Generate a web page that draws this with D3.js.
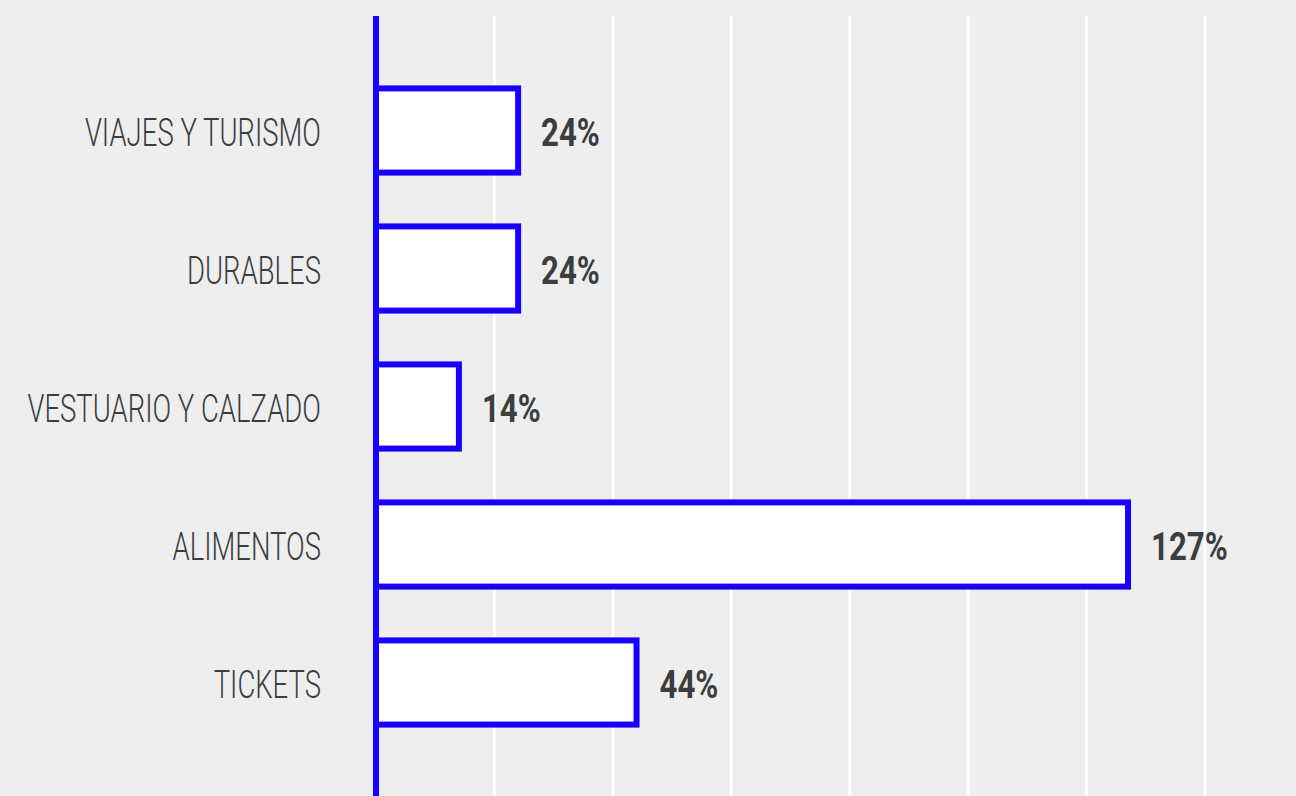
<!DOCTYPE html>
<meta charset="utf-8">
<style>
body {
  margin: 0;
  background: #eeeeee;
  font-family: Roboto, "Noto Sans", sans-serif;
}
svg { display: block; }
.grid line { stroke: #fff; stroke-width: 3; }
.axis-line { stroke: #1800ff; stroke-width: 6; }
.bar { fill: #fff; stroke: #1800ff; stroke-width: 6; }
.cat { fill: #3b3e41; font-weight: 300; font-size: 39px; }
.val { fill: #3b3e41; font-weight: 700; font-size: 38px; }
</style>
<div id="chart"></div>
<script src="https://d3js.org/d3.v7.min.js"></script>
<script>
var categories = ["VIAJES Y TURISMO", "DURABLES", "VESTUARIO Y CALZADO", "ALIMENTOS", "TICKETS"];
var values = [24, 24, 14, 127, 44];
var gridTicks = [0, 20, 40, 60, 80, 100, 120, 140];

var width = 1296, height = 796;
var catSqueeze = 0.705, valSqueeze = 0.82;

var svg = d3.select("#chart").append("svg")
  .attr("width", width)
  .attr("height", height);

var x = d3.scaleLinear().domain([0, 140]).range([376, 1205]);
var y = d3.scaleBand().domain(categories).range([61.5, 751.5])
  .paddingInner(0.39).paddingOuter(0.195);

// vertical grid
svg.append("g").attr("class", "grid")
  .selectAll("line").data(gridTicks).enter().append("line")
  .attr("x1", d => x(d)).attr("x2", d => x(d))
  .attr("y1", 16).attr("y2", height);

// bars
svg.selectAll(".bar").data(values).enter().append("rect")
  .attr("class", "bar")
  .attr("x", x(0))
  .attr("y", (d, i) => y(categories[i]))
  .attr("width", d => x(d) - x(0))
  .attr("height", y.bandwidth());

// axis line
svg.append("line").attr("class", "axis-line")
  .attr("x1", x(0)).attr("x2", x(0))
  .attr("y1", 16).attr("y2", height);

// category labels
svg.selectAll(".cat").data(categories).enter().append("text")
  .attr("class", "cat")
  .attr("text-anchor", "end")
  .attr("transform", d => "translate(321," + (y(d) + y.bandwidth() / 2 + 15) + ") scale(" + catSqueeze + ",1)")
  .text(d => d);

// value labels
svg.selectAll(".val").data(values).enter().append("text")
  .attr("class", "val")
  .attr("transform", (d, i) => "translate(" + (x(d) + 23) + "," + (y(categories[i]) + y.bandwidth() / 2 + 15) + ") scale(" + valSqueeze + ",1)")
  .text(d => d + "%");
</script>
